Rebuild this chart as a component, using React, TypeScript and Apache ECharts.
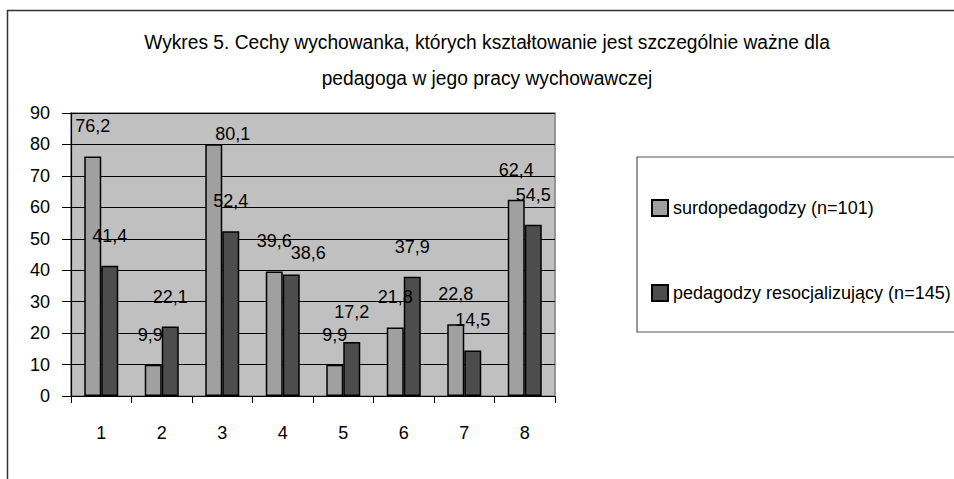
import React, { useEffect, useRef } from "react";
import * as echarts from "echarts";

const categories = ["1", "2", "3", "4", "5", "6", "7", "8"];
const seriesNames = ["surdopedagodzy (n=101)", "pedagodzy resocjalizujący (n=145)"];
const surdo = [76.2, 9.9, 80.1, 39.6, 9.9, 21.8, 22.8, 62.4];
const resoc = [41.4, 22.1, 52.4, 38.6, 17.2, 37.9, 14.5, 54.5];
const titleLines = [
  "Wykres 5. Cechy wychowanka, których kształtowanie jest szczególnie ważne dla",
  "pedagoga w jego pracy wychowawczej",
];
// label nudges (style only)
const surdoLabelNudge: Record<number, [number, number]> = { 1: [-3, 0], 2: [19, 19.5] };
const resocLabelNudge: Record<number, [number, number]> = { 3: [17, 8] };

const FONT = "'Liberation Sans', Arial, sans-serif";

export default function App() {
  const ref = useRef<HTMLDivElement>(null);
  useEffect(() => {
    const chart = echarts.init(ref.current!, null, { renderer: "svg" });
    const mk = (vals: number[], nudge: Record<number, [number, number]>) =>
      vals.map((v, i) =>
        nudge[i] ? { value: v, label: { offset: nudge[i] } } : { value: v }
      );
    const labelCfg = {
      show: true,
      position: "top",
      distance: 21,
      fontSize: 18,
      fontFamily: FONT,
      color: "#000",
      formatter: (p: any) => String(p.value).replace(".", ","),
    };
    const titleStyle = (text: string) => ({
      text,
      fontSize: 20,
      fontFamily: FONT,
      fill: "#000",
      align: "center",
      verticalAlign: "middle",
    });
    chart.setOption({
      animation: false,
      backgroundColor: "#fff",
      textStyle: { fontFamily: FONT },
      graphic: [
        {
          type: "rect",
          shape: { x: 7.5, y: 10.5, width: 1100, height: 1000 },
          style: { fill: "none", stroke: "#333", lineWidth: 1.5 },
          z: -10,
        },
        {
          type: "rect",
          shape: { x: 637, y: 157, width: 500, height: 175 },
          style: { fill: "#fff", stroke: "#555", lineWidth: 1.2 },
          z: -5,
        },
        { type: "text", x: 487, y: 42, scaleX: 0.96, style: titleStyle(titleLines[0]) },
        { type: "text", x: 487, y: 78, scaleX: 0.96, style: titleStyle(titleLines[1]) },
      ],
      legend: {
        orient: "vertical",
        left: 646,
        top: 194,
        itemWidth: 16,
        itemHeight: 16,
        itemGap: 67,
        icon: "rect",
        textStyle: { fontSize: 18, fontFamily: FONT, color: "#000" },
        data: seriesNames,
      },
      grid: {
        left: 71,
        top: 113,
        width: 484,
        height: 283,
        show: true,
        backgroundColor: "#c0c0c0",
        borderColor: "#808080",
        borderWidth: 1.5,
      },
      xAxis: {
        type: "category",
        data: categories,
        axisLine: { show: true, lineStyle: { color: "#000", width: 1.2 } },
        axisTick: { show: true, length: 7, lineStyle: { color: "#000" } },
        axisLabel: { fontSize: 18, color: "#000", margin: 28, fontFamily: FONT },
      },
      yAxis: {
        type: "value",
        min: 0,
        max: 90,
        interval: 10,
        axisLine: { show: true, lineStyle: { color: "#000", width: 1.2 } },
        axisTick: { show: true, length: 9, lineStyle: { color: "#000" } },
        axisLabel: { fontSize: 18, color: "#000", margin: 21, fontFamily: FONT },
        splitLine: { show: true, lineStyle: { color: "#000", width: 1 } },
      },
      series: [
        {
          name: seriesNames[0],
          type: "bar",
          barWidth: 17,
          barGap: "0%",
          data: mk(surdo, surdoLabelNudge),
          itemStyle: { color: "#a0a0a0", borderColor: "#000", borderWidth: 1.5 },
          label: labelCfg,
        },
        {
          name: seriesNames[1],
          type: "bar",
          barWidth: 17,
          barGap: "0%",
          data: mk(resoc, resocLabelNudge),
          itemStyle: { color: "#4d4d4d", borderColor: "#000", borderWidth: 1.5 },
          label: labelCfg,
        },
      ],
    });
    return () => chart.dispose();
  }, []);
  return (
    <div
      ref={ref}
      style={{ position: "absolute", left: 0, top: 0, width: 954, height: 479 }}
    />
  );
}
